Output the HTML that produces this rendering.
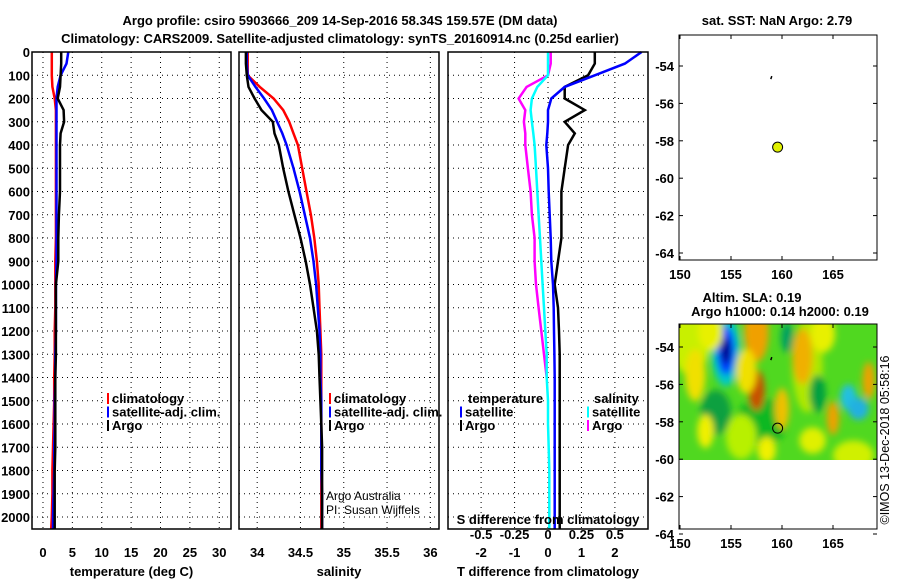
<!DOCTYPE html>
<html><head><meta charset="utf-8"><style>
body{margin:0;background:#fff}
svg{display:block;font-family:"Liberation Sans",sans-serif}
.t{font-weight:bold;font-size:13px}
</style></head><body>
<svg id="c" width="900" height="580" xmlns="http://www.w3.org/2000/svg">
<defs><filter id="bl"><feGaussianBlur stdDeviation="3.5"/></filter><clipPath id="mc"><rect x="679" y="324" width="198" height="136"/></clipPath></defs>
</svg>
<script>
const depth=[0,50,100,150,200,250,300,350,400,500,600,700,800,900,1000,1100,1200,1300,1400,1500,1600,1700,1800,1900,2000,2050];
const tClim=[1.5,1.5,1.5,1.6,2.0,2.2,2.2,2.2,2.2,2.2,2.2,2.2,2.2,2.1,2.1,2.1,2.0,2.0,1.9,1.9,1.8,1.7,1.6,1.6,1.5,1.4];
const tSat=[4.3,4.0,3.0,2.5,2.3,2.3,2.3,2.3,2.3,2.3,2.3,2.3,2.3,2.3,2.2,2.2,2.2,2.1,2.1,2.0,2.0,1.9,1.9,1.8,1.7,1.7];
const tArgo=[3.1,3.1,3.0,2.9,2.5,3.5,3.6,3.0,2.9,2.9,2.9,2.7,2.6,2.6,2.2,2.2,2.2,2.2,2.1,2.1,2.1,2.1,2.0,2.0,2.0,2.0];
const sClim=[33.89,33.89,33.89,34.03,34.19,34.30,34.37,34.42,34.47,34.52,34.57,34.62,34.66,34.69,34.71,34.72,34.73,34.74,34.74,34.74,34.74,34.74,34.74,34.74,34.74,34.74];
const sSat=[33.88,33.88,33.89,33.98,34.08,34.17,34.23,34.29,34.34,34.42,34.49,34.55,34.61,34.65,34.68,34.70,34.72,34.73,34.73,34.74,34.74,34.74,34.74,34.75,34.75,34.75];
const sArgo=[33.87,33.87,33.88,33.90,33.97,34.05,34.18,34.20,34.25,34.30,34.36,34.43,34.50,34.56,34.61,34.65,34.69,34.71,34.72,34.73,34.74,34.75,34.75,34.75,34.75,34.75];
const dTSat=[2.8,2.3,1.4,0.5,0.1,0.0,0.0,-0.02,-0.05,0.0,0.02,0.05,0.08,0.1,0.15,0.17,0.18,0.19,0.2,0.2,0.2,0.2,0.2,0.2,0.2,0.2];
const dTArgo=[1.4,1.4,1.2,0.5,0.5,1.1,0.5,0.8,0.6,0.5,0.4,0.4,0.4,0.3,0.2,0.3,0.33,0.35,0.35,0.35,0.35,0.35,0.35,0.35,0.35,0.35];
const dSSat=[0,0,0,-0.08,-0.12,-0.13,-0.12,-0.11,-0.1,-0.09,-0.08,-0.07,-0.06,-0.05,-0.04,-0.03,-0.02,-0.01,-0.01,0,0,0.005,0.01,0.01,0.01,0.01];
const dSArgo=[0.02,0.02,0,-0.16,-0.22,-0.17,-0.18,-0.17,-0.17,-0.15,-0.13,-0.12,-0.1,-0.1,-0.09,-0.07,-0.05,-0.03,-0.01,null,null,null,null,null,null,null];
const depthTicks=[0,100,200,300,400,500,600,700,800,900,1000,1100,1200,1300,1400,1500,1600,1700,1800,1900,2000];
const tTicks=[0,5,10,15,20,25,30];
const sTicks=[34,34.5,35,35.5,36];
const sTickLabels=["34","34.5","35","35.5","36"];
const dTicks=[-2,-1,0,1,2];
const dsTicks=[-0.5,-0.25,0,0.25,0.5];
const dsTickLabels=["-0.5","-0.25","0","0.25","0.5"];
const latTicks=[-54,-56,-58,-60,-62,-64];
const lonTicks=[150,155,160,165];
const argoLon=[159.57], argoLat=[-58.34];
const slaLon=[154.5,154.5,154.5,157.5,157.5,162,168.5,166.5,167.5,165,151.5,160,158.5,163,152.5,156.5,164,160.5,153,163.5];
const slaLat=[-54.2,-54.2,-54.2,-53.2,-56.3,-54.5,-55.8,-56.7,-57.3,-57.8,-55.5,-57.3,-59.5,-59,-58.5,-55.3,-53.3,-53.5,-53.2,-56.5];
const slaRx=[1.4,0.9,0.45,1.2,0.8,1.0,0.6,0.8,1.0,0.6,1.0,0.7,0.9,1.3,0.8,1.0,1.2,0.6,1.2,0.8];
const slaRy=[1.9,1.3,0.7,1.6,1.1,1.5,1.0,0.7,0.6,0.9,1.4,1.1,0.7,0.7,0.9,1.2,1.0,0.8,1.0,1.0];
const slaCol=["#00c8c8","#0040ff","#000080","#f0a000","#c85000","#f0b000","#f0a000","#20c0e0","#20b0e0","#f0a000","#f0e000","#f0c000","#f0f000","#e0f000","#f0f000","#f0e000","#e8f000","#00a060","#e8f000","#00a040"];

const svg=document.getElementById('c');
const NS='http://www.w3.org/2000/svg';
function mk(tag,attrs,parent){const e=document.createElementNS(NS,tag);for(const k in attrs)e.setAttribute(k,attrs[k]);(parent||svg).appendChild(e);return e;}
function txt(x,y,s,cls,anchor,extra){const e=mk('text',Object.assign({x:x,y:y,'text-anchor':anchor||'middle'},extra||{}));if(cls)e.setAttribute('class',cls);e.textContent=s;return e;}
const yD=d=>52+d*0.2325;
const panels=[{x0:32,x1:231,v0:-1.87,v1:32.0},{x0:239,x1:439,v0:33.79,v1:36.1},{x0:448,x1:648,v0:-2.99,v1:2.99}];
function sx(p,v){return p.x0+(v-p.v0)/(p.v1-p.v0)*(p.x1-p.x0);}
const pTop=52,pBot=529;

let e=txt(340,25,'Argo profile: csiro 5903666_209 14-Sep-2016 58.34S 159.57E (DM data)','t');e.setAttribute('font-size','14.5');

e=txt(340,43,'Climatology: CARS2009. Satellite-adjusted climatology: synTS_20160914.nc (0.25d earlier)','t');e.setAttribute('font-size','14.5');


depthTicks.forEach(d=>{const t=txt(30,yD(d)+5,String(d),'t','end');
});

const ptick=[tTicks,sTicks,dTicks];
const plab=[tTicks.map(String),sTickLabels,dTicks.map(String)];
const ptitle=['temperature (deg C)','salinity','T difference from climatology'];
const pname=['temperature-panel','salinity-panel','difference-panel'];
panels.forEach((p,i)=>{
  const g=mk('g',{});
  
  depthTicks.forEach(d=>mk('line',{x1:p.x0,x2:p.x1,y1:yD(d),y2:yD(d),stroke:'#000','stroke-width':1,'stroke-dasharray':'1,4'},g));
  ptick[i].forEach((v,j)=>{const x=sx(p,v);
    mk('line',{x1:x,x2:x,y1:pTop,y2:pBot,stroke:'#000','stroke-width':1,'stroke-dasharray':'1,4'},g);
    const t=txt(x,557,plab[i][j],'t');});
  const at=txt((p.x0+p.x1)/2,576,ptitle[i],'t');
  p.g=g;
});
function series(p,vals,col,name,w,scale){
  let d='';let pen=false;
  vals.forEach((v,k)=>{if(v===null){pen=false;return;}const x=sx(p,v*(scale||1)),y=yD(depth[k]);d+=(pen?'L':'M')+x.toFixed(1)+','+y.toFixed(1);pen=true;});
  const el=mk('path',{d:d,fill:'none',stroke:col,'stroke-width':w||2.5});
  
}
series(panels[0],tClim,'#f00','temp-climatology-line');
series(panels[0],tSat,'#00f','temp-satellite-line');
series(panels[0],tArgo,'#000','temp-argo-line');
series(panels[1],sClim,'#f00','sal-climatology-line');
series(panels[1],sSat,'#00f','sal-satellite-line');
series(panels[1],sArgo,'#000','sal-argo-line');
series(panels[2],dSArgo,'#f0f','sdiff-argo-line',2.5,4);
series(panels[2],dSSat,'#0ff','sdiff-satellite-line',2.5,4);
series(panels[2],dTArgo,'#000','tdiff-argo-line');
series(panels[2],dTSat,'#00f','tdiff-satellite-line');
panels.forEach(p=>{const r=mk('rect',{x:p.x0,y:pTop,width:p.x1-p.x0,height:pBot-pTop,fill:'none',stroke:'#000','stroke-width':1.5});
});

function leg(x,y,col,label){const g=mk('g',{});
  
  mk('rect',{x:x,y:y-10,width:2,height:11,fill:col},g);const t=txt(x+5,y,label,'t','start');g.appendChild(t);}
[[107,'climatology','#f00'],[107,'satellite-adj. clim.','#00f'],[107,'Argo','#000']].forEach((a,k)=>leg(a[0],403+k*13.5,a[2],a[1]));
[[329,'climatology','#f00'],[329,'satellite-adj. clim.','#00f'],[329,'Argo','#000']].forEach((a,k)=>leg(a[0],403+k*13.5,a[2],a[1]));
e=txt(468,403,'temperature','t','start');
leg(460,416.5,'#00f','satellite');leg(460,430,'#000','Argo');
e=txt(594,403,'salinity','t','start');
leg(587,416.5,'#0ff','satellite');leg(587,430,'#f0f','Argo');
e=txt(548,524,'S difference from climatology','t');
dsTicks.forEach((v,j)=>{const t=txt(sx(panels[2],v*4),539,dsTickLabels[j],'t');});
e=txt(326,500,'Argo Australia','','start',{'font-size':'12'});
e=txt(326,514,'PI: Susan Wijffels','','start',{'font-size':'12'});

const lonX=l=>680+(l-150)*10.2;
function mapFrame(top,bot,latRef,name){
  const latY=la=>latRef+(-54-la)*18.7;
  const g=mk('g',{});
  return {g:g,latY:latY,top:top,bot:bot};
}
const m1=mapFrame(35,260,66,'sst-map');
const m2=mapFrame(324,529,347,'sla-map');
const fg=mk('g',{'clip-path':'url(#mc)'},m2.g);
mk('rect',{x:679,y:324,width:198,height:136,fill:'#50d820'},fg);
const bg=mk('g',{filter:'url(#bl)'},fg);
[[151,-53.5,2,2,'#c8f000'],[158,-58,2.5,1.3,'#10b820'],[162.5,-55,1.5,2.5,'#b0e800'],[167,-59.8,2,0.8,'#d0f000'],[153.5,-57.5,1.5,1.2,'#10a040'],[156,-58.8,1.5,1.2,'#b8f000']].forEach(b=>mk('ellipse',{cx:lonX(b[0]),cy:m2.latY(b[1]),rx:b[2]*10.2,ry:b[3]*18.7,fill:b[4]},bg));
slaLon.forEach((l,k)=>{const el=mk('ellipse',{cx:lonX(l),cy:m2.latY(slaLat[k]),rx:slaRx[k]*10.2,ry:slaRy[k]*18.7,fill:slaCol[k]},bg);
});
[m1,m2].forEach((m,i)=>{
  mk('rect',{x:679,y:m.top,width:198,height:m.bot-m.top,fill:'none',stroke:'#000','stroke-width':1},m.g);
  latTicks.forEach(la=>{const y=m.latY(la);
    mk('line',{x1:679,x2:683,y1:y,y2:y,stroke:'#000'},m.g);mk('line',{x1:873,x2:877,y1:y,y2:y,stroke:'#000'},m.g);
    const t=txt(674,y+5,String(la),'t','end');m.g.appendChild(t);});
  lonTicks.forEach(l=>{const x=lonX(l);
    mk('line',{x1:x,x2:x,y1:m.bot,y2:m.bot-4,stroke:'#000'},m.g);mk('line',{x1:x,x2:x,y1:m.top,y2:m.top+4,stroke:'#000'},m.g);
    const t=txt(x,m.bot+19,String(l),'t');m.g.appendChild(t);});
  mk('path',{d:`M${lonX(158.9)},${m.latY(-54.7)}l1,-3`,stroke:'#000','stroke-width':1.5},m.g);
  argoLon.forEach((l,k)=>{const c=mk('circle',{cx:lonX(l),cy:m.latY(argoLat[k]),r:5,fill:i==0?'#e0f000':'none',stroke:'#000','stroke-width':1},m.g);
  });
});
e=txt(777,25,'sat. SST: NaN Argo: 2.79','t');
e=txt(752,302,'Altim. SLA: 0.19','t');
e=txt(780,316,'Argo h1000: 0.14 h2000: 0.19','t');
e=txt(0,0,'©IMOS 13-Dec-2018 05:58:16','','middle',{'font-size':'12.5',transform:'translate(889,440) rotate(-90)'});

</script>
</body></html>
